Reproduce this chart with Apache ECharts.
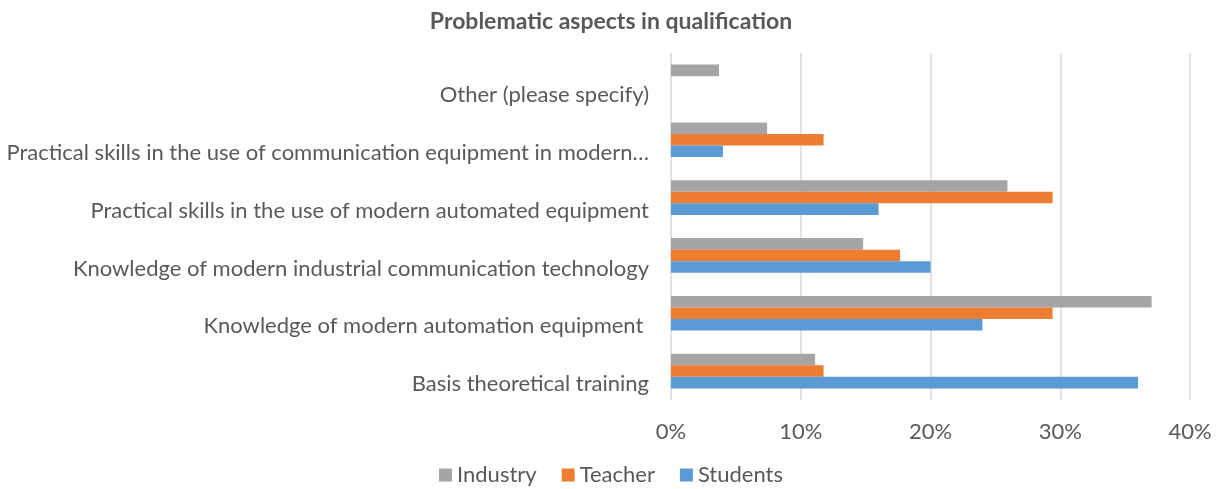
<!DOCTYPE html>
<html>
<head>
<meta charset="utf-8">
<style>
  html, body { margin: 0; padding: 0; background: #fff; }
  #chart { width: 1222px; height: 489px; }
</style>
<script src="https://cdn.jsdelivr.net/npm/echarts@6/dist/echarts.min.js"></script>
</head>
<body>
<div id="chart"></div>
<script>
/* categories, bottom to top */
var categories = [
    'Basis theoretical training',
    'Knowledge of modern automation equipment ',
    'Knowledge of modern industrial communication technology',
    'Practical skills in the use of modern automated equipment',
    'Practical skills in the use of communication equipment in modern\u2026',
    'Other (please specify)'
];

/* percentages */
var students = [36, 24, 20, 16, 4, null];
var teacher = [11.76, 29.41, 17.65, 29.41, 11.76, null];
var industry = [11.11, 37.04, 14.81, 25.93, 7.41, 3.7];

var tickLabels = ['0%', '10%', '20%', '30%', '40%'];

var legendOrder = ['Industry', 'Teacher', 'Students'];

var font = 'Lato';
var textColor = '#595959';

var myChart = echarts.init(document.getElementById('chart'));

var option = {
    animation: false,
    title: {
        text: 'Problematic aspects in qualification',
        left: 'center',
        top: 5,
        textStyle: {
            fontFamily: font,
            fontSize: 23,
            fontWeight: 'bold',
            color: textColor
        }
    },
    legend: {
        data: legendOrder,
        bottom: -2,
        left: 'center',
        icon: 'rect',
        itemWidth: 13,
        itemHeight: 13,
        itemGap: 25,
        textStyle: {
            fontFamily: font,
            fontSize: 22,
            color: textColor
        }
    },
    grid: {
        left: 671,
        right: 32,
        top: 53,
        bottom: 89
    },
    xAxis: {
        type: 'value',
        min: 0,
        max: 40,
        interval: 10,
        axisLine: {show: false},
        axisTick: {show: false},
        splitLine: {
            lineStyle: {color: '#d9d9d9', width: 1.5}
        },
        axisLabel: {
            margin: 21,
            fontFamily: font,
            fontSize: 22,
            color: textColor,
            formatter: function (v) {
                return tickLabels[Math.round(v / 10)];
            }
        }
    },
    yAxis: {
        type: 'category',
        data: categories,
        axisLine: {show: false},
        axisTick: {show: false},
        axisLabel: {
            margin: 22,
            verticalAlign: 'top',
            lineHeight: 26,
            fontFamily: font,
            fontSize: 22,
            color: textColor
        }
    },
    // first series is drawn on top of each group
    series: [
        {
            name: 'Industry',
            type: 'bar',
            data: industry,
            barGap: '0%',
            barCategoryGap: '40%',
            itemStyle: {color: '#a5a5a5'}
        },
        {
            name: 'Teacher',
            type: 'bar',
            data: teacher,
            barGap: '0%',
            barCategoryGap: '40%',
            itemStyle: {color: '#ed7d31'}
        },
        {
            name: 'Students',
            type: 'bar',
            data: students,
            barGap: '0%',
            barCategoryGap: '40%',
            itemStyle: {color: '#5b9bd5'}
        }
    ]
};

myChart.setOption(option);
</script>
</body>
</html>
